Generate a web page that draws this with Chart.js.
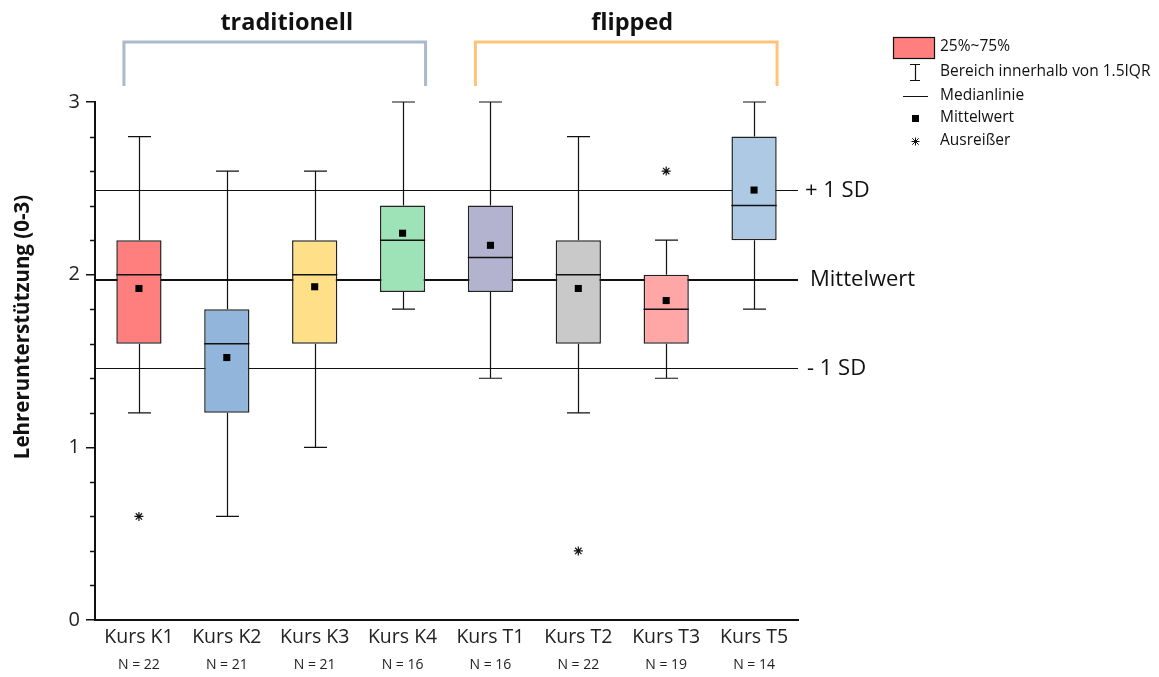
<!DOCTYPE html>
<html>
<head>
<meta charset="utf-8">
<script src="https://cdn.jsdelivr.net/npm/chart.js@4/dist/chart.umd.min.js"></script>
<style>
html,body{margin:0;padding:0;background:#fff;}
#wrap{width:1159px;height:677px;position:relative;}
</style>
</head>
<body>
<div id="wrap"><canvas id="c" width="1159" height="677"></canvas></div>
<script>
const categories = ["Kurs K1","Kurs K2","Kurs K3","Kurs K4","Kurs T1","Kurs T2","Kurs T3","Kurs T5"];
const nLabels = ["N = 22","N = 21","N = 21","N = 16","N = 16","N = 22","N = 19","N = 14"];
const whiskerLow  = [1.2, 0.6, 1.0, 1.8, 1.4, 1.2, 1.4, 1.8];
const q1          = [1.6, 1.2, 1.6, 1.9, 1.9, 1.6, 1.6, 2.2];
const median      = [2.0, 1.6, 2.0, 2.2, 2.1, 2.0, 1.8, 2.4];
const q3          = [2.2, 1.8, 2.2, 2.4, 2.4, 2.2, 2.0, 2.8];
const whiskerHigh = [2.8, 2.6, 2.6, 3.0, 3.0, 2.8, 2.2, 3.0];
const means       = [1.92, 1.52, 1.93, 2.24, 2.17, 1.92, 1.85, 2.49];
const outlierCats = ["Kurs K1","Kurs T2","Kurs T3"];
const outlierVals = [0.6, 0.4, 2.6];
const boxColors = ["#FF7F7F","#92B5DB","#FFDF88","#9EE2B8","#B3B3CF","#C9C9C9","#FFA7A7","#ADC9E4"];
const overallMean = 1.97;
const sdPlus = 2.49;
const sdMinus = 1.46;
const yTicks = [0,1,2,3];
const groups = [
  {label:"traditionell", from:"Kurs K1", to:"Kurs K4", color:"#AAB9CE"},
  {label:"flipped", from:"Kurs T1", to:"Kurs T5", color:"#FFC47A"}
];
const legendItems = ["25%~75%","Bereich innerhalb von 1.5IQR","Medianlinie","Mittelwert","Ausreißer"];
const yTitle = "Lehrerunterstützung (0-3)";
const FONT = "'Open Sans', 'Noto Sans', sans-serif";

const boxPlugin = {
  id:'boxextras',
  beforeDatasetsDraw(chart){
    const {ctx, scales:{x,y}, chartArea} = chart;
    ctx.save();
    // reference lines
    const refs = [[overallMean,2.2,"Mittelwert",810],[sdPlus,1.2,"+ 1 SD",805],[sdMinus,1.2,"- 1 SD",807]];
    refs.forEach(([v,w,lab,tx])=>{
      const py = Math.round(y.getPixelForValue(v))+ (w<2?0.5:0);
      ctx.strokeStyle = "#111"; ctx.lineWidth = w;
      ctx.beginPath(); ctx.moveTo(chartArea.left, py); ctx.lineTo(chartArea.right, py); ctx.stroke();
      ctx.fillStyle = "#111"; ctx.font = "22px " + FONT; ctx.textBaseline = "middle"; ctx.textAlign = "left";
      ctx.fillText(lab, tx, py);
    });
    // whiskers
    const half = 11.5;
    ctx.strokeStyle = "#111"; ctx.lineWidth = 1.2;
    categories.forEach((c,i)=>{
      const px = Math.round(x.getPixelForValue(i))+0.5;
      const yl = y.getPixelForValue(whiskerLow[i]), yh = y.getPixelForValue(whiskerHigh[i]);
      const y1 = y.getPixelForValue(q1[i]), y3 = y.getPixelForValue(q3[i]);
      ctx.beginPath();
      ctx.moveTo(px, yh); ctx.lineTo(px, y3);
      ctx.moveTo(px, y1); ctx.lineTo(px, yl);
      ctx.moveTo(px-half, yh); ctx.lineTo(px+half, yh);
      ctx.moveTo(px-half, yl); ctx.lineTo(px+half, yl);
      ctx.stroke();
    });
    ctx.restore();
  },
  afterDatasetsDraw(chart){
    const {ctx, scales:{x,y}} = chart;
    const meta = chart.getDatasetMeta(0);
    ctx.save();
    ctx.strokeStyle = "#111"; ctx.lineWidth = 1.5;
    meta.data.forEach((bar,i)=>{
      const py = y.getPixelForValue(median[i]);
      const w = bar.width/2;
      ctx.beginPath(); ctx.moveTo(bar.x-w, py); ctx.lineTo(bar.x+w, py); ctx.stroke();
    });
    ctx.restore();
  },
  afterDraw(chart){
    const {ctx, scales:{x,y}, chartArea} = chart;
    ctx.save();
    // minor y ticks
    ctx.strokeStyle = "#111"; ctx.lineWidth = 1.5;
    for(let k=0;k<=15;k++){
      if(k%5===0) continue;
      const v = k/5;
      const py = Math.round(y.getPixelForValue(v))+0.5;
      ctx.beginPath(); ctx.moveTo(chartArea.left-5, py); ctx.lineTo(chartArea.left, py); ctx.stroke();
    }
    // N labels
    ctx.fillStyle = "#222"; ctx.font = "14px " + FONT; ctx.textAlign = "center"; ctx.textBaseline = "middle";
    nLabels.forEach((n,i)=>{
      ctx.fillText(n, x.getPixelForValue(i), 665);
    });
    // y title
    ctx.save();
    ctx.translate(23, 327);
    ctx.rotate(-Math.PI/2);
    ctx.font = "bold 20.5px " + FONT; ctx.fillStyle = "#111"; ctx.textAlign = "center"; ctx.textBaseline = "middle";
    ctx.fillText(yTitle, 0, 0);
    ctx.restore();
    // group brackets
    const textShift = [12, 6];
    groups.forEach((g,gi)=>{
      const xl = x.getPixelForValue(categories.indexOf(g.from)) - 15;
      const xr = x.getPixelForValue(categories.indexOf(g.to)) + 23;
      ctx.strokeStyle = g.color; ctx.lineWidth = 3; ctx.lineJoin = "miter";
      ctx.beginPath(); ctx.moveTo(xl, 86); ctx.lineTo(xl, 42); ctx.lineTo(xr, 42); ctx.lineTo(xr, 86); ctx.stroke();
      ctx.fillStyle = "#111"; ctx.font = "bold 23.5px " + FONT; ctx.textAlign = "center"; ctx.textBaseline = "middle";
      ctx.fillText(g.label, (xl+xr)/2 + textShift[gi], 23);
    });
    // legend
    const lx = 915, tx = 940;
    const rows = [47, 72, 96, 118, 141];
    ctx.font = "15.5px " + FONT; ctx.fillStyle = "#111"; ctx.textAlign = "left"; ctx.textBaseline = "middle";
    rows.forEach((ry,i)=> ctx.fillText(legendItems[i], tx, ry));
    ctx.fillStyle = boxColors[0]; ctx.fillRect(893.5, 37.5, 41, 21);
    ctx.strokeStyle = "#111"; ctx.lineWidth = 1.2; ctx.strokeRect(893.5, 37.5, 41, 21);
    ctx.beginPath();
    ctx.moveTo(lx-5, 64.5); ctx.lineTo(lx+5, 64.5);
    ctx.moveTo(lx+0.5, 64.5); ctx.lineTo(lx+0.5, 80.5);
    ctx.moveTo(lx-5, 80.5); ctx.lineTo(lx+5, 80.5);
    ctx.moveTo(lx-12, 96.5); ctx.lineTo(lx+13, 96.5);
    ctx.stroke();
    ctx.fillStyle = "#000"; ctx.fillRect(lx-3, 115, 7, 7);
    // asterisk
    const ax = lx+0.5, ay = 141.5, r = 4;
    ctx.lineWidth = 1;
    ctx.beginPath();
    ctx.moveTo(ax-r, ay); ctx.lineTo(ax+r, ay);
    ctx.moveTo(ax, ay-r); ctx.lineTo(ax, ay+r);
    ctx.moveTo(ax-r*0.8, ay-r*0.8); ctx.lineTo(ax+r*0.8, ay+r*0.8);
    ctx.moveTo(ax-r*0.8, ay+r*0.8); ctx.lineTo(ax+r*0.8, ay-r*0.8);
    ctx.stroke();
    ctx.restore();
  }
};

new Chart(document.getElementById('c'), {
  type:'bar',
  data:{
    labels: categories,
    datasets:[
      {
        type:'bar',
        data: categories.map((c,i)=>[q1[i], q3[i]]),
        backgroundColor: boxColors,
        borderColor: "#222",
        borderWidth: 1.5,
        borderSkipped: false,
        categoryPercentage: 1,
        barPercentage: 0.515,
        order: 2
      },
      {
        type:'scatter',
        data: categories.map((c,i)=>({x:c, y:means[i]})),
        pointStyle:'rect',
        pointRadius: 5,
        backgroundColor:"#000",
        borderColor:"#000",
        borderWidth:0,
        order: 1
      },
      {
        type:'scatter',
        data: outlierCats.map((c,i)=>({x:c, y:outlierVals[i]})),
        pointStyle:'star',
        pointRadius: 4.5,
        backgroundColor:"#000",
        borderColor:"#111",
        borderWidth:1.2,
        order: 0
      }
    ]
  },
  options:{
    responsive:false,
    animation:false,
    events:[],
    layout:{padding:{top:102, right:361, left:0, bottom:0}},
    plugins:{legend:{display:false}, tooltip:{enabled:false}},
    scales:{
      x:{
        type:'category',
        offset:true,
        grid:{display:false, drawTicks:false},
        border:{display:true, color:"#111", width:2},
        ticks:{color:"#222", font:{family:FONT, size:19.5}, padding:6, maxRotation:0, autoSkip:false},
        afterFit(s){ s.height = 57; }
      },
      y:{
        min:0, max:3,
        afterBuildTicks(s){ s.ticks = yTicks.map(v=>({value:v})); },
        grid:{display:true, drawOnChartArea:false, drawTicks:true, tickLength:9, color:"#111", lineWidth:1.5},
        border:{display:true, color:"#111", width:2},
        ticks:{color:"#222", font:{family:FONT, size:20}, padding:6},
        afterFit(s){ s.width = 95; }
      }
    }
  },
  plugins:[boxPlugin]
});
</script>
</body>
</html>
